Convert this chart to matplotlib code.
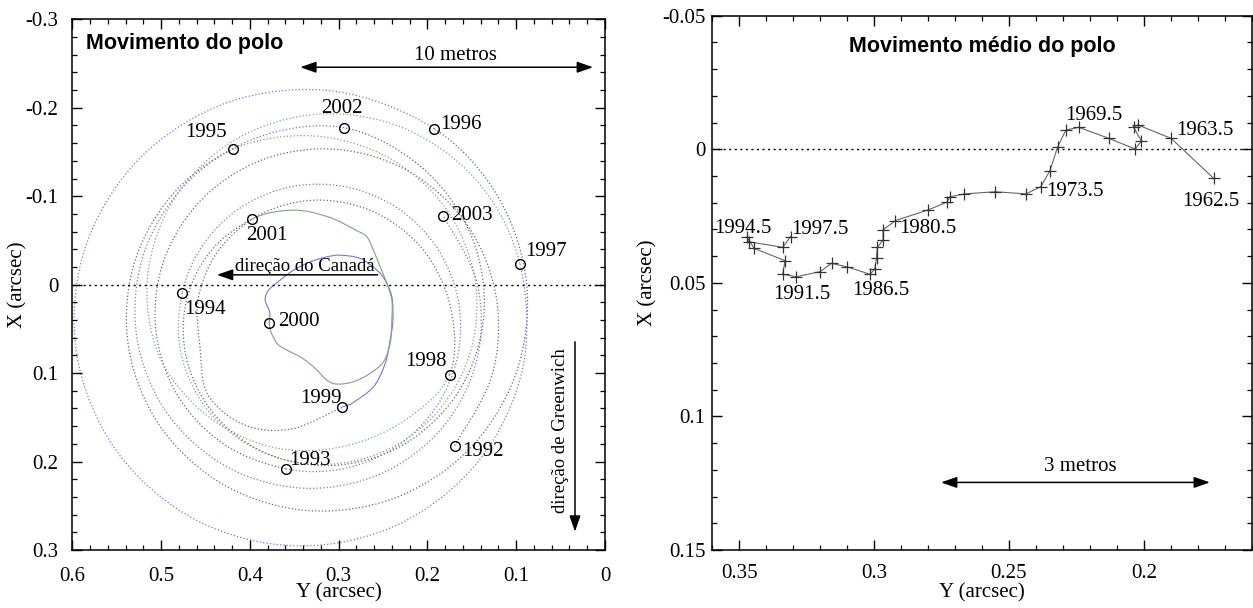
import matplotlib
matplotlib.use('Agg')
import matplotlib.pyplot as plt
from matplotlib.ticker import MultipleLocator, FuncFormatter
from matplotlib.path import Path
from matplotlib.patches import PathPatch

plt.rcParams['font.family'] = ['Liberation Serif', 'DejaVu Serif']
plt.rcParams['axes.unicode_minus'] = False

# ---------------- Left panel data: pole path (Y, X in arcsec), one arc per year
arc_1992_y = [0.1694, 0.127, 0.1227, 0.1561, 0.2198, 0.301, 0.3839, 0.4532, 0.4963, 0.5061, 0.482, 0.4296, 0.3597]
arc_1992_x = [0.1821, 0.1018, 0.0126, -0.0688, -0.1274, -0.1529, -0.1419, -0.0974, -0.0289, 0.0499, 0.1242, 0.1801, 0.2081]
arc_1993_y = [0.3597, 0.2951, 0.2357, 0.1903, 0.1658, 0.1654, 0.189, 0.2327, 0.2897, 0.3514, 0.4084, 0.4522, 0.4763]
arc_1993_x = [0.2081, 0.2082, 0.1836, 0.1386, 0.08, 0.0169, -0.0413, -0.0859, -0.1102, -0.1111, -0.0884, -0.046, 0.0096]
arc_1994_y = [0.4763, 0.4778, 0.4496, 0.3953, 0.3245, 0.2505, 0.188, 0.1506, 0.147, 0.1797, 0.2443, 0.3294, 0.4185]
arc_1994_x = [0.0096, 0.0763, 0.1391, 0.1848, 0.2033, 0.1891, 0.143, 0.0727, -0.0092, -0.0866, -0.1438, -0.1682, -0.1534]
arc_1995_y = [0.4185, 0.4899, 0.5321, 0.5359, 0.4996, 0.4289, 0.3361, 0.2385, 0.1544, 0.1007, 0.0882, 0.1205, 0.1925]
arc_1995_x = [-0.1534, -0.0987, -0.0176, 0.0752, 0.1622, 0.2266, 0.2553, 0.2419, 0.1876, 0.1017, -0.0003, -0.0994, -0.1764]
arc_1996_y = [0.1925, 0.3049, 0.4241, 0.5248, 0.5861, 0.595, 0.5501, 0.4613, 0.3474, 0.2327, 0.1413, 0.0923, 0.0959]
arc_1996_x = [-0.1764, -0.2187, -0.2063, -0.1421, -0.0399, 0.0786, 0.1881, 0.2658, 0.2954, 0.271, 0.1981, 0.0923, -0.0238]
arc_1997_y = [0.0959, 0.1435, 0.2256, 0.3236, 0.4162, 0.4843, 0.5149, 0.5034, 0.452, 0.378, 0.300, 0.228, 0.1751]
arc_1997_x = [-0.0238, -0.1165, -0.1765, -0.1928, -0.1641, -0.0985, -0.0115, 0.0776, 0.145, 0.183, 0.184, 0.155, 0.1019]
arc_1998_y = [0.1751, 0.1736, 0.204, 0.259, 0.3248, 0.3874, 0.4346, 0.458, 0.4561, 0.447, 0.405, 0.352, 0.2957]
arc_1998_x = [0.1019, 0.0273, -0.0384, -0.0816, -0.0956, -0.0798, -0.0397, 0.0147, 0.0714, 0.125, 0.159, 0.163, 0.1384]
arc_1999_y = [0.2957, 0.2851, 0.2608, 0.2476, 0.242, 0.2389, 0.2401, 0.2476, 0.257, 0.2757, 0.2983, 0.3132,
              0.332, 0.3508, 0.3658, 0.379, 0.3827, 0.3778, 0.378]
arc_1999_x = [0.1384, 0.1342, 0.1155, 0.089, 0.0627, 0.0401, 0.0138, -0.0051, -0.0164, -0.0296, -0.0333, -0.0314,
              -0.0258, -0.0164, -0.0051, 0.0062, 0.0175, 0.0307, 0.0428]
arc_2000_y = [0.378, 0.377, 0.3695, 0.3582, 0.3433, 0.3283, 0.3132, 0.302, 0.2833, 0.2645, 0.2495, 0.242, 0.2401,
              0.2401, 0.2457, 0.2532, 0.2608, 0.2682, 0.2806, 0.3118, 0.3517, 0.398]
arc_2000_x = [0.0428, 0.0514, 0.0664, 0.074, 0.0816, 0.0929, 0.1079, 0.1124, 0.1098, 0.1003, 0.0872, 0.0664, 0.0401,
              0.0175, -0.0014, -0.0201, -0.039, -0.054, -0.0616, -0.0766, -0.0842, -0.074]
arc_2001_y = [0.398, 0.4458, 0.4725, 0.4697, 0.4351, 0.3736, 0.2966, 0.2203, 0.162, 0.1362, 0.1514, 0.207, 0.2939]
arc_2001_x = [-0.074, -0.0359, 0.0227, 0.0903, 0.1523, 0.1939, 0.2037, 0.1768, 0.1161, 0.0324, -0.0572, -0.1331, -0.1775]
arc_2002_y = [0.2939, 0.3908, 0.4716, 0.5202, 0.5272, 0.4925, 0.4241, 0.3374, 0.2504, 0.1813, 0.1436, 0.1443, 0.1822]
arc_2002_x = [-0.1775, -0.1666, -0.1143, -0.0328, 0.0606, 0.1463, 0.2069, 0.2302, 0.2129, 0.1595, 0.0819, -0.003, -0.0777]

# yearly markers
marker_years = [1992, 1993, 1994, 1995, 1996, 1997, 1998, 1999, 2000, 2001, 2002, 2003]
marker_y = [0.1694, 0.3597, 0.4763, 0.4185, 0.1925, 0.0959, 0.1751, 0.2957, 0.378, 0.398, 0.2939, 0.1822]
marker_x = [0.1821, 0.2081, 0.0096, -0.1534, -0.1764, -0.0238, 0.1019, 0.1384, 0.0428, -0.074, -0.1775, -0.0777]

# ---------------- Right panel data: mean pole 1962.5 .. 1997.5
mean_years = [1962.5 + i for i in range(36)]
mean_y = [0.1741, 0.1899, 0.2022, 0.2038, 0.2009, 0.2032, 0.2130, 0.2241, 0.2289, 0.2319, 0.2348, 0.2382,
          0.2437, 0.2551, 0.2665, 0.2720, 0.2730, 0.2800, 0.2921, 0.2967, 0.2967, 0.2988, 0.2991, 0.2998,
          0.3015, 0.3100, 0.3158, 0.3200, 0.3288, 0.3339, 0.3330, 0.3445, 0.3472, 0.3465, 0.3339, 0.3310]
mean_x = [0.0109, -0.0041, -0.0091, -0.0083, -0.0031, -0.0001, -0.0041, -0.0082, -0.0072, -0.0010, 0.0080, 0.0140,
          0.0167, 0.0159, 0.0167, 0.0178, 0.0198, 0.0227, 0.0267, 0.0302, 0.0340, 0.0367, 0.0406, 0.0449,
          0.0468, 0.0440, 0.0427, 0.0458, 0.0477, 0.0468, 0.0417, 0.0371, 0.0327, 0.0346, 0.0367, 0.0327]
mean_labels = ['1962.5', '1963.5', '1969.5', '1973.5', '1980.5', '1986.5', '1991.5', '1994.5', '1997.5']

BLUE = '#7474ea'
GRAY = '#6a6a6a'
GREEN = '#7aa87a'

W, H = 1253, 608
fig = plt.figure(figsize=(W / 100, H / 100), dpi=100)
ax1 = fig.add_axes([72.3 / W, 1 - 550 / H, (605 - 72.3) / W, (550 - 19.3) / H])
ax2 = fig.add_axes([712.3 / W, 1 - 550 / H, (1251.7 - 712.3) / W, (550 - 15.7) / H])

fmt = FuncFormatter(lambda v, p: '0' if abs(v) < 1e-9 else ('%g' % round(v, 4)))


def style(ax, xmaj, xmin, ymaj, ymin, xpad, ypad):
    ax.xaxis.set_major_locator(MultipleLocator(xmaj))
    ax.xaxis.set_minor_locator(MultipleLocator(xmin))
    ax.yaxis.set_major_locator(MultipleLocator(ymaj))
    ax.yaxis.set_minor_locator(MultipleLocator(ymin))
    ax.xaxis.set_major_formatter(fmt)
    ax.yaxis.set_major_formatter(fmt)
    ax.tick_params(which='both', direction='in', top=True, right=True, labelsize=15, colors='black')
    ax.tick_params(which='major', length=7, width=1)
    ax.tick_params(which='minor', length=3.3, width=0.9)
    ax.tick_params(axis='x', pad=xpad)
    ax.tick_params(axis='y', pad=ypad)
    for s in ax.spines.values():
        s.set_linewidth(1.1)
        s.set_color('black')


# ---------------- Left panel
ax1.set_xlim(0.6, 0.0)
ax1.set_ylim(0.3, -0.3)
style(ax1, 0.1, 0.02, 0.1, 0.02, 12, 10)

arcs = [
    (arc_1992_y, arc_1992_x, GRAY, 'dot'),
    (arc_1993_y, arc_1993_x, BLUE, 'dot'),
    (arc_1994_y, arc_1994_x, GREEN, 'dot'),
    (arc_1995_y, arc_1995_x, GRAY, 'dot'),
    (arc_1996_y, arc_1996_x, BLUE, 'dot'),
    (arc_1997_y, arc_1997_x, GREEN, 'dot'),
    (arc_1998_y, arc_1998_x, GRAY, 'dot'),
    (arc_1999_y, arc_1999_x, BLUE, 'solid'),
    (arc_2000_y, arc_2000_x, GREEN, 'solid'),
    (arc_2001_y, arc_2001_x, GRAY, 'dot'),
    (arc_2002_y, arc_2002_x, BLUE, 'dot'),
]

# one continuous point sequence so that the smooth (Catmull-Rom as cubic Bezier) drawing
# is continuous across year boundaries
pts = []
owner = []
for i, (ys, xs, c, ls) in enumerate(arcs):
    start = 0 if i == 0 else 1
    for y, x in zip(ys[start:], xs[start:]):
        pts.append((y, x))
        owner.append(i)

segs = {i: [] for i in range(len(arcs))}
n = len(pts)
for k in range(n - 1):
    p0 = pts[max(k - 1, 0)]
    p1 = pts[k]
    p2 = pts[k + 1]
    p3 = pts[min(k + 2, n - 1)]
    c1 = (p1[0] + (p2[0] - p0[0]) / 6.0, p1[1] + (p2[1] - p0[1]) / 6.0)
    c2 = (p2[0] - (p3[0] - p1[0]) / 6.0, p2[1] - (p3[1] - p1[1]) / 6.0)
    segs[owner[k + 1]].append((p1, c1, c2, p2))

for i, (ys, xs, c, ls) in enumerate(arcs):
    verts, codes = [], []
    for (p1, c1, c2, p2) in segs[i]:
        if not verts:
            verts.append(p1)
            codes.append(Path.MOVETO)
        verts += [c1, c2, p2]
        codes += [Path.CURVE4] * 3
    if ls == 'dot':
        patch = PathPatch(Path(verts, codes), fill=False, edgecolor=c, lw=0.9, linestyle=(0, (1, 1.7)))
    else:
        patch = PathPatch(Path(verts, codes), fill=False, edgecolor=c, lw=0.8, linestyle='-')
    ax1.add_patch(patch)

ax1.axhline(0, color='black', lw=1.0, ls=(0, (1.5, 2.5)))
ax1.plot(marker_y, marker_x, ls='none', marker='o', mfc='none', mec='black', ms=7, mew=1.0)

label_pos = {
    1992: (0.1604, 0.1889, 'left'), 1993: (0.3562, 0.1983, 'left'), 1994: (0.4738, 0.0277, 'left'),
    1995: (0.449, -0.1723, 'center'), 1996: (0.1857, -0.1814, 'left'), 1997: (0.090, -0.0371, 'left'),
    1998: (0.2018, 0.0872, 'center'), 1999: (0.3196, 0.1282, 'center'), 2000: (0.3677, 0.0412, 'left'),
    2001: (0.3806, -0.0559, 'center'), 2002: (0.296, -0.1994, 'center'), 2003: (0.1738, -0.0785, 'left'),
}
for yr in marker_years:
    ly, lx, ha = label_pos[yr]
    ax1.text(ly, lx, str(yr), fontsize=15, ha=ha, va='center')

ax1.text(0.0252, 0.944, 'Movimento do polo', transform=ax1.transAxes, fontsize=15.5,
         family='Liberation Sans', weight='bold', va='baseline', ha='left')

arrow_kw = dict(color='black', lw=1.1, shrinkA=0, shrinkB=0, mutation_scale=12)
ax1.annotate('', xy=(0.0135, -0.2458), xytext=(0.3433, -0.2458),
             arrowprops=dict(arrowstyle='<|-|>,head_length=0.8,head_width=0.28', **arrow_kw))
ax1.text(0.1688, -0.2593, '10 metros', fontsize=15, ha='center', va='center')

ax1.annotate('', xy=(0.4371, -0.0111), xytext=(0.2561, -0.0111),
             arrowprops=dict(arrowstyle='-|>,head_length=0.8,head_width=0.28', **arrow_kw))
ax1.text(0.3379, -0.0201, 'direção do Canadá', fontsize=13.5, ha='center', va='center')

ax1.annotate('', xy=(0.0338, 0.2793), xytext=(0.0338, 0.0646),
             arrowprops=dict(arrowstyle='-|>,head_length=0.8,head_width=0.28', **arrow_kw))
ax1.text(0.0501, 0.1655, 'direção de Greenwich', fontsize=13.5, ha='center', va='center', rotation=90)

# ---------------- Right panel
ax2.set_xlim(0.36, 0.16)
ax2.set_ylim(0.15, -0.05)
style(ax2, 0.05, 0.01, 0.05, 0.01, 10, 5)

ax2.axhline(0, color='black', lw=1.0, ls=(0, (1.5, 2.5)))
ax2.plot(mean_y, mean_x, color='#666666', lw=0.8, marker='+', ms=9, mew=0.9, mec='#333333')

mean_label_pos = [(0.1751, 0.0196), (0.1775, -0.0072), (0.2186, -0.0128), (0.2257, 0.0159), (0.2801, 0.0296),
                  (0.2976, 0.0529), (0.327, 0.0545), (0.3485, 0.0296), (0.3201, 0.0299)]
for txt, (ly, lx) in zip(mean_labels, mean_label_pos):
    ax2.text(ly, lx, txt, fontsize=15, ha='center', va='center')

ax2.text(0.5, 0.9326, 'Movimento médio do polo', transform=ax2.transAxes, fontsize=15.5,
         family='Liberation Sans', weight='bold', va='baseline', ha='center')

ax2.annotate('', xy=(0.1755, 0.1247), xytext=(0.2752, 0.1247),
             arrowprops=dict(arrowstyle='<|-|>,head_length=0.8,head_width=0.28', **arrow_kw))
ax2.text(0.2237, 0.1188, '3 metros', fontsize=15, ha='center', va='center')

# axis labels
fig.text(338.6 / W, 1 - 593 / H, 'Y (arcsec)', fontsize=15, ha='center', va='center')
fig.text(982 / W, 1 - 593 / H, 'Y (arcsec)', fontsize=15, ha='center', va='center')
fig.text(17.8 / W, 1 - 285 / H, 'X (arcsec)', fontsize=15, ha='center', va='center', rotation=90)
fig.text(648 / W, 1 - 283 / H, 'X (arcsec)', fontsize=15, ha='center', va='center', rotation=90)

fig.savefig('out.png', dpi=100)
